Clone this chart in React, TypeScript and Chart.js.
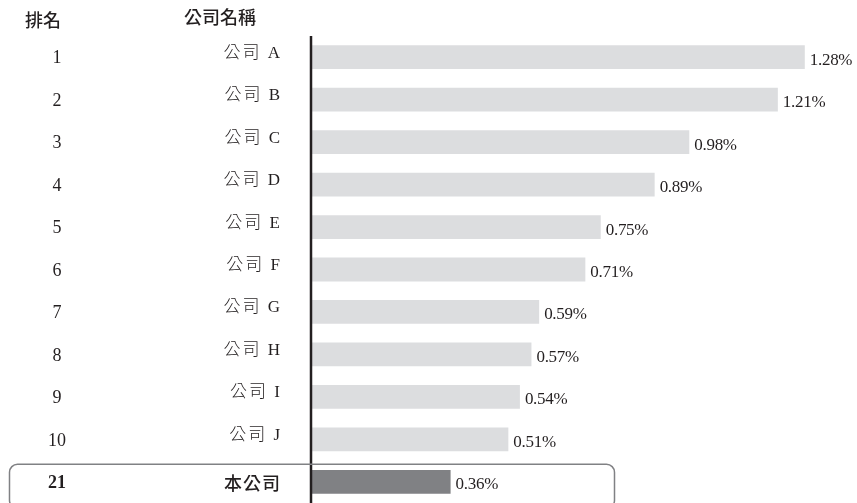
import React, { useEffect, useRef } from "react";
import { Chart, registerables } from "chart.js";

Chart.register(...registerables);

const ranks: string[] = ["1", "2", "3", "4", "5", "6", "7", "8", "9", "10", "21"];
const companies: string[] = ["公司 A", "公司 B", "公司 C", "公司 D", "公司 E", "公司 F", "公司 G", "公司 H", "公司 I", "公司 J", "本公司"];
const values: number[] = [1.28, 1.21, 0.98, 0.89, 0.75, 0.71, 0.59, 0.57, 0.54, 0.51, 0.36];
const headers: string[] = ["排名", "公司名稱"];
const highlightIndex = 10;

const LIGHT = "#dcdddf";
const DARK = "#808184";
const INK = "#231f20";

export default function App() {
  const ref = useRef<HTMLCanvasElement | null>(null);

  useEffect(() => {
    if (!ref.current) return;
    const overlay = {
      id: "overlay",
      afterDatasetsDraw(chart: any) {
        const ctx = chart.ctx as CanvasRenderingContext2D;
        const ya = chart.scales.y;
        const xa = chart.scales.x;
        const area = chart.chartArea;
        ctx.save();
        // headers
        ctx.fillStyle = INK;
        ctx.font = "500 18px 'Noto Sans CJK TC', 'Noto Sans CJK SC', sans-serif";
        ctx.textAlign = "center";
        ctx.textBaseline = "middle";
        ctx.fillText(headers[0], 43, 20);
        ctx.fillText(headers[1], 220, 17);
        // rows
        companies.forEach((name, i) => {
          const y = ya.getPixelForValue(i);
          const hl = i === highlightIndex;
          ctx.fillStyle = INK;
          ctx.textAlign = "center";
          ctx.textBaseline = "middle";
          (ctx as any).letterSpacing = "0px";
          ctx.font = (hl ? "bold " : "") + "18px 'Liberation Serif', serif";
          ctx.fillText(ranks[i], 57, y + 1.5);
          ctx.textAlign = "right";
          if (hl) {
            ctx.font = "500 18px 'Noto Sans CJK TC', sans-serif";
            (ctx as any).letterSpacing = "1px";
            ctx.fillText(name, 281, y + 1);
          } else {
            ctx.font = "300 17px 'Liberation Serif', 'Noto Sans CJK TC', serif";
            (ctx as any).letterSpacing = "2px";
            ctx.fillText(name, 282, y - 4);
          }
          const xe = xa.getPixelForValue(values[i]);
          ctx.textAlign = "left";
          ctx.font = "17px 'Liberation Serif', serif";
          (ctx as any).letterSpacing = "-0.3px";
          ctx.fillText(values[i].toFixed(2) + "%", xe + 5, y + 3);
          (ctx as any).letterSpacing = "0px";
        });
        // axis line
        ctx.strokeStyle = INK;
        ctx.lineWidth = 2.5;
        ctx.beginPath();
        ctx.moveTo(area.left - 1, area.top);
        ctx.lineTo(area.left - 1, 503);
        ctx.stroke();
        // highlight box
        const yh = ya.getPixelForValue(highlightIndex);
        ctx.strokeStyle = "#808184";
        ctx.lineWidth = 1.5;
        ctx.beginPath();
        (ctx as any).roundRect(9.5, yh - 17.5, 605, 44, 8);
        ctx.stroke();
        ctx.restore();
      },
    };
    const chart = new Chart(ref.current, {
      type: "bar",
      data: {
        labels: companies,
        datasets: [
          {
            data: values,
            backgroundColor: values.map((_, i) => (i === highlightIndex ? DARK : LIGHT)),
            borderWidth: 0,
            categoryPercentage: 1,
            barPercentage: 0.56,
          },
        ],
      },
      options: {
        indexAxis: "y",
        animation: false,
        responsive: false,
        maintainAspectRatio: false,
        layout: { padding: { left: 312, top: 36, right: 0, bottom: 0 } },
        plugins: { legend: { display: false }, tooltip: { enabled: false }, title: { display: false } },
        scales: {
          x: { display: false, min: 0, max: 1.4156 },
          y: { display: false },
        },
      },
      plugins: [overlay],
    } as any);
    return () => chart.destroy();
  }, []);

  return (
    <div style={{ position: "absolute", left: 0, top: 0, width: 857, height: 503, background: "#fff" }}>
      <canvas ref={ref} width={857} height={503} style={{ display: "block", width: 857, height: 503 }} />
    </div>
  );
}
